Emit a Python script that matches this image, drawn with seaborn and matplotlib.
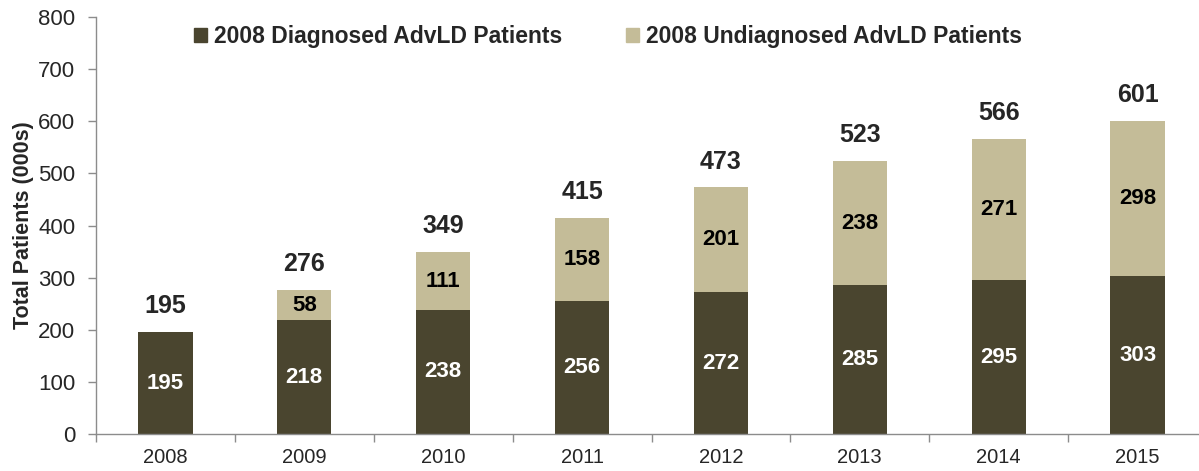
import pandas as pd
import seaborn as sns
import matplotlib.pyplot as plt
from matplotlib.patches import Patch

# Values (thousands of patients)
years = ['2008', '2009', '2010', '2011', '2012', '2013', '2014', '2015']
diagnosed = [195, 218, 238, 256, 272, 285, 295, 303]
undiagnosed = [0, 58, 111, 158, 201, 238, 271, 298]
totals = [195, 276, 349, 415, 473, 523, 566, 601]

dark = '#4a452f'
light = '#c4bc98'
axis_grey = '#8c8c8c'


def main():
    df = pd.DataFrame({'year': years, 'diagnosed': diagnosed,
                       'undiagnosed': undiagnosed, 'total': totals})

    sns.set_style('white')
    plt.rcParams['font.family'] = ['Liberation Sans', 'DejaVu Sans']

    fig = plt.figure(figsize=(11.99, 4.71), dpi=100)
    ax = fig.add_axes([96 / 1199, 37 / 471, 1111 / 1199, 417 / 471])

    # stacked bars: draw the total first, then the diagnosed part on top
    sns.barplot(data=df, x='year', y='total', color=light, width=0.39,
                saturation=1, linewidth=0, ax=ax)
    sns.barplot(data=df, x='year', y='diagnosed', color=dark, width=0.39,
                saturation=1, linewidth=0, ax=ax)

    for i, row in df.iterrows():
        ax.text(i, row['diagnosed'] / 2, f"{row['diagnosed']}", ha='center',
                va='center', color='white', fontsize=16, fontweight='bold')
        if row['undiagnosed'] > 0:
            ax.text(i, row['diagnosed'] + row['undiagnosed'] / 2,
                    f"{row['undiagnosed']}", ha='center', va='center',
                    color='black', fontsize=16, fontweight='bold')
        ax.annotate(f"{row['total']}", (i, row['total']), xytext=(0, 10),
                    textcoords='offset points', ha='center', va='bottom',
                    fontsize=18, fontweight='bold')

    ax.set_ylim(0, 800)
    ax.set_yticks(range(0, 801, 100))
    ax.set_xlim(-0.5, len(years) - 0.5)
    ax.set_xlabel('')
    ax.set_ylabel('Total Patients (000s)', fontsize=15.5, fontweight='bold',
                  labelpad=3)

    # x ticks sit between the categories, labels in the middle
    ax.set_xticks([i + 0.5 for i in range(-1, len(years))], minor=False)
    ax.set_xticklabels([''] * (len(years) + 1))
    ax.set_xticks(range(len(years)), minor=True)
    ax.set_xticklabels(years, minor=True)
    ax.tick_params(axis='x', which='major', bottom=True, direction='out',
                   length=6, width=1, color=axis_grey)
    ax.tick_params(axis='x', which='minor', bottom=True, length=0,
                   labelsize=14.5, pad=10)
    ax.tick_params(axis='y', left=True, direction='out', length=6, width=1,
                   color=axis_grey, labelsize=16, pad=9)

    sns.despine(ax=ax)
    for side in ['left', 'bottom']:
        ax.spines[side].set_color(axis_grey)
        ax.spines[side].set_linewidth(1)

    handles = [Patch(color=dark, label='2008 Diagnosed AdvLD Patients'),
               Patch(color=light, label='2008 Undiagnosed AdvLD Patients')]
    ax.legend(handles=handles, loc='upper center', ncol=2,
              bbox_to_anchor=(0.461, 1.03), frameon=False,
              prop={'size': 16.5, 'weight': 'bold'}, handlelength=0.55,
              handleheight=0.55, handletextpad=0.3, columnspacing=2.8)

    plt.savefig('out.png', dpi=100)


if __name__ == "__main__":
    main()
